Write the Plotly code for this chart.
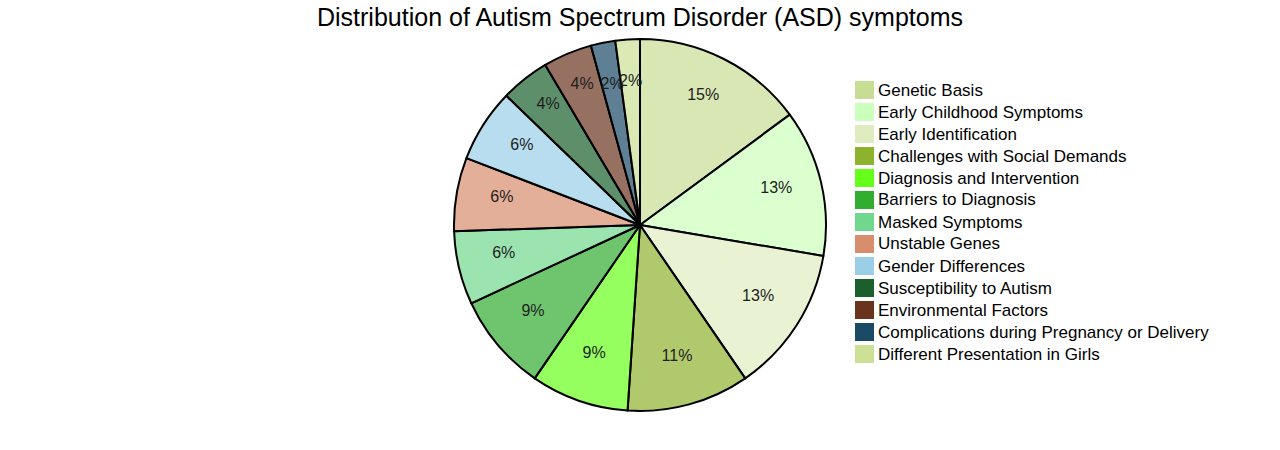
import plotly.graph_objects as go

labels = [
    "Genetic Basis",
    "Early Childhood Symptoms",
    "Early Identification",
    "Challenges with Social Demands",
    "Diagnosis and Intervention",
    "Barriers to Diagnosis",
    "Masked Symptoms",
    "Unstable Genes",
    "Gender Differences",
    "Susceptibility to Autism",
    "Environmental Factors",
    "Complications during Pregnancy or Delivery",
    "Different Presentation in Girls",
]
values = [7, 6, 6, 5, 4, 4, 3, 3, 3, 2, 2, 1, 1]
colors = [
    "#c8dd94", "#ccffbb", "#dfecbf", "#8db22e", "#66ff19", "#31ad30", "#70d88e",
    "#d88d6c", "#9acfe7", "#1a5f2c", "#6a331c", "#1b4a66", "#cce096",
]
slice_alpha = 0.7

W, H = 1280, 450
MT, MB = 39, 39
PLOT_H = H - MT - MB
FONT = "Liberation Sans, Arial, sans-serif"
TEXT_LIFT_PX = 5          # labels sit slightly above the geometric slice centre
RING_MAIN = (168, 0.668)  # (radius px, hole) of transparent ring carrying most labels
RING_TINY = (147, 0.90)   # same for the very thin slices
PCT_FMT = "%{percent:.0%}"


def rgba(h, a):
    h = h.lstrip("#")
    r, g, b = int(h[0:2], 16), int(h[2:4], 16), int(h[4:6], 16)
    return f"rgba({r},{g},{b},{a})"


def py(ypx):  # pixel row -> paper y
    return (H - MB - ypx) / PLOT_H


total = sum(values)
tiny = [v / total < 0.03 for v in values]

fig = go.Figure()
# visible pie
fig.add_trace(go.Pie(
    labels=labels, values=values, sort=False, direction="clockwise", rotation=0,
    marker=dict(colors=[rgba(c, slice_alpha) for c in colors],
                line=dict(color="#000000", width=2)),
    textinfo="none", showlegend=False,
))


def label_ring(radius_px, hole, templates):
    half = radius_px / PLOT_H
    cy = 0.5 + TEXT_LIFT_PX / PLOT_H
    return go.Pie(
        labels=labels, values=values, sort=False, direction="clockwise", rotation=0,
        hole=hole, domain=dict(x=[0, 1], y=[cy - half, cy + half]),
        marker=dict(colors=["rgba(0,0,0,0)"] * len(labels), line=dict(width=0)),
        texttemplate=templates, textposition="inside",
        insidetextorientation="horizontal",
        textfont=dict(size=16, color="#1e1e1e", family=FONT),
        hoverinfo="skip", showlegend=False,
    )


fig.add_trace(label_ring(*RING_MAIN, ["" if t else PCT_FMT for t in tiny]))
fig.add_trace(label_ring(*RING_TINY, [PCT_FMT if t else "" for t in tiny]))

# legend (swatch + label per category)
shapes, annotations = [], []
for i, (lab, col) in enumerate(zip(labels, colors)):
    cy = 90 + 22 * i
    shapes.append(dict(type="rect", xref="paper", yref="paper",
                       x0=855 / W, x1=874 / W, y0=py(cy + 9), y1=py(cy - 9),
                       fillcolor=col, line=dict(width=0), layer="above"))
    annotations.append(dict(text=lab, xref="paper", yref="paper",
                            x=876 / W, y=py(cy), xanchor="left", yanchor="middle",
                            showarrow=False, font=dict(size=17, color="#000000", family=FONT)))

fig.update_layout(
    width=W, height=H,
    paper_bgcolor="white", plot_bgcolor="white",
    margin=dict(l=0, r=0, t=MT, b=MB),
    font=dict(family=FONT, color="#000000"),
    title=dict(text="Distribution of Autism Spectrum Disorder (ASD) symptoms",
               x=0.5, xanchor="center", y=1 - 17 / H, yanchor="middle",
               font=dict(size=25, color="#000000")),
    showlegend=False,
    shapes=shapes, annotations=annotations,
    uniformtext=dict(minsize=16, mode="show"),
)

fig.write_html("out.html")
